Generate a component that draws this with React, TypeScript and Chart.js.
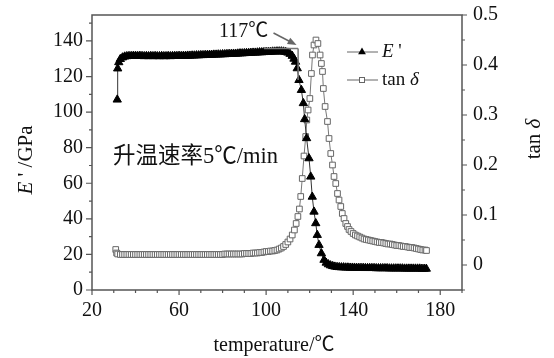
import React, { useEffect, useRef } from "react";
import { Chart, registerables } from "chart.js";

Chart.register(...registerables);

// ---- data ----
const eTemp = [
  31.6, 31.8, 32.3, 33, 34, 35, 36, 37, 38, 39, 40, 41, 42, 43, 44, 45, 46, 47, 48, 49,
  50, 51, 52, 53, 54, 55, 56, 57, 58, 59, 60, 61, 62, 63, 64, 65, 66, 67, 68, 69,
  70, 71, 72, 73, 74, 75, 76, 77, 78, 79, 80, 81, 82, 83, 84, 85, 86, 87, 88, 89,
  90, 91, 92, 93, 94, 95, 96, 97, 98, 99, 100, 101, 102, 103, 104, 105, 106, 107, 108, 109,
  110, 111, 112, 112.8, 113.5, 114.3, 115.1, 116.2, 117.1, 117.7, 118.6, 119.7, 120.5, 121.2, 122, 122.8,
  123.5, 124.3, 125.4, 126.6, 127.6, 128.6, 129.6, 130.6, 131.6, 132.6, 133.6, 134.6, 135.6, 136.6, 137.6, 138.6,
  139.6, 140.6, 141.6, 142.6, 143.6, 144.6, 145.6, 146.6, 147.6, 148.6, 149.6, 150.6, 151.6, 152.6, 153.6, 154.6,
  155.6, 156.6, 157.6, 158.6, 159.6, 160.6, 161.6, 162.6, 163.6, 164.6, 165.6, 166.6, 167.6, 168.6, 169.6, 170.6,
  171.6, 172.6, 173.6,
];
const eMod = [
  107, 124.5, 128, 129.8, 130.7, 131.2, 131.4, 131.5, 131.5, 131.6, 131.6, 131.5, 131.6, 131.5, 131.4, 131.5, 131.4, 131.5, 131.4, 131.5,
  131.4, 131.4, 131.5, 131.4, 131.4, 131.5, 131.4, 131.5, 131.5, 131.5, 131.6, 131.5, 131.6, 131.6, 131.7, 131.7, 131.8, 131.8, 131.9, 131.9,
  132.0, 132.0, 132.1, 132.1, 132.2, 132.2, 132.3, 132.3, 132.4, 132.4, 132.5, 132.5, 132.6, 132.7, 132.7, 132.8, 132.8, 132.9, 133.0, 133.0,
  133.1, 133.2, 133.2, 133.3, 133.4, 133.4, 133.5, 133.6, 133.6, 133.7, 133.8, 133.8, 133.9, 134.0, 134.0, 134.1, 134.1, 134.1, 134.0, 133.8,
  133.4, 132.7, 131.6, 130.0, 128.3, 124.6, 118, 112.4, 105, 96, 85.3, 74, 63.7, 52.4, 44, 37.5,
  30.9, 25.3, 20.6, 16.9, 15.3, 14.4, 13.8, 13.4, 13.1, 12.9, 12.8, 12.7, 12.7, 12.6, 12.6, 12.5,
  12.5, 12.5, 12.4, 12.4, 12.4, 12.4, 12.3, 12.3, 12.3, 12.3, 12.3, 12.2, 12.2, 12.2, 12.2, 12.2,
  12.2, 12.1, 12.1, 12.1, 12.1, 12.1, 12.1, 12.1, 12.0, 12.0, 12.0, 12.0, 12.0, 12.0, 12.0, 12.0,
  11.9, 11.9, 11.9,
];

const tTemp = [
  30.9, 31.3, 31.8, 33, 34, 35, 36, 37, 38, 39, 40, 41, 42, 43, 44, 45, 46, 47, 48, 49,
  50, 51, 52, 53, 54, 55, 56, 57, 58, 59, 60, 61, 62, 63, 64, 65, 66, 67, 68, 69,
  70, 71, 72, 73, 74, 75, 76, 77, 78, 79, 80, 81, 82, 83, 84, 85, 86, 87, 88, 89,
  90, 91, 92, 93, 94, 95, 96, 97, 98, 99, 100, 101, 102, 103, 104, 105, 106, 107, 108, 109,
  110, 111, 112, 113, 113.8, 114.6, 115.3, 115.9, 116.6, 117.4, 118.2, 118.7, 119.3, 120.1, 120.8, 121.3,
  122.0, 122.9, 123.8, 124.8, 125.4, 125.9, 126.3, 127.1, 128.2, 128.9, 129.7, 130.5, 131.2, 132.0, 132.8, 133.5,
  134.3, 135.0, 135.8, 136.6, 137.4, 138.1, 139, 140, 141, 142, 143, 144, 145, 146, 147, 148,
  149, 150, 151, 152, 153, 154, 155, 156, 157, 158, 159, 160, 161, 162, 163, 164,
  165, 166, 167, 168, 169, 170, 171, 172, 173, 173.7,
];
const tanD = [
  0.031, 0.024, 0.022, 0.021, 0.021, 0.021, 0.021, 0.021, 0.021, 0.021, 0.021, 0.021, 0.021, 0.021, 0.021, 0.021, 0.021, 0.021, 0.021, 0.021,
  0.021, 0.021, 0.021, 0.021, 0.021, 0.021, 0.021, 0.021, 0.021, 0.021, 0.021, 0.021, 0.021, 0.021, 0.021, 0.021, 0.021, 0.021, 0.021, 0.021,
  0.021, 0.021, 0.021, 0.021, 0.021, 0.021, 0.021, 0.021, 0.021, 0.021, 0.021, 0.022, 0.022, 0.022, 0.022, 0.022, 0.022, 0.022, 0.022, 0.022,
  0.023, 0.023, 0.023, 0.023, 0.024, 0.024, 0.024, 0.025, 0.025, 0.026, 0.027, 0.027, 0.028, 0.028, 0.029, 0.030, 0.032, 0.034, 0.037, 0.041,
  0.046, 0.052, 0.060, 0.070, 0.083, 0.097, 0.112, 0.137, 0.173, 0.218, 0.257, 0.290, 0.310, 0.333, 0.383, 0.420,
  0.440, 0.450, 0.443, 0.420, 0.403, 0.387, 0.353, 0.317, 0.287, 0.253, 0.223, 0.200, 0.177, 0.163, 0.143, 0.130,
  0.117, 0.103, 0.093, 0.083, 0.077, 0.071, 0.067, 0.063, 0.060, 0.058, 0.056, 0.054, 0.052, 0.051, 0.050, 0.049,
  0.048, 0.047, 0.046, 0.045, 0.045, 0.044, 0.043, 0.042, 0.042, 0.041, 0.040, 0.039, 0.039, 0.038, 0.037, 0.037,
  0.036, 0.035, 0.035, 0.034, 0.033, 0.032, 0.031, 0.030, 0.030, 0.029,
];

const xTickLabels = [20, 60, 100, 140, 180];
const xMinorTicks = [30, 40, 50, 70, 80, 90, 110, 120, 130, 150, 160, 170, 190];
const yLeftTickLabels = [0, 20, 40, 60, 80, 100, 120, 140];
const yLeftMinorTicks = [10, 30, 50, 70, 90, 110, 130, 150];
const yRightTickLabels = [0, 0.1, 0.2, 0.3, 0.4, 0.5];
const yRightMinorTicks = [-0.05, 0.05, 0.15, 0.25, 0.35, 0.45];

// annotation (onset construction) in data units
const onsetLabel = "117℃";
const onsetH = { x0: 99, x1: 114.7, y: 135.8 };
const onsetV = { x: 114.7, y0: 135.8, y1: 118 };
const arrowFrom = { x: 103.4, y: 144.5 };
const arrowTo = { x: 114, y: 137.7 };
const rateText = "升温速率5℃/min";

const SERIF = "'Liberation Serif', 'Noto Sans CJK SC', serif";
const AXIS = "#555";
const TEXT = "#111";

type Run = { t: string; italic?: boolean };

function drawRuns(ctx: CanvasRenderingContext2D, runs: Run[], size: number, x: number, y: number, align: "left" | "center" | "right") {
  const fonts = runs.map((r) => `${r.italic ? "italic " : ""}${size}px ${SERIF}`);
  let total = 0;
  const widths = runs.map((r, i) => {
    ctx.font = fonts[i];
    const w = ctx.measureText(r.t).width;
    total += w;
    return w;
  });
  let cx = align === "left" ? x : align === "center" ? x - total / 2 : x - total;
  ctx.textAlign = "left";
  ctx.textBaseline = "middle";
  runs.forEach((r, i) => {
    ctx.font = fonts[i];
    ctx.fillText(r.t, cx, y);
    cx += widths[i];
  });
}

function drawTri(ctx: CanvasRenderingContext2D, x: number, y: number, r: number) {
  ctx.beginPath();
  ctx.moveTo(x, y - r);
  ctx.lineTo(x + r * 0.866, y + r * 0.5);
  ctx.lineTo(x - r * 0.866, y + r * 0.5);
  ctx.closePath();
  ctx.fillStyle = "#000";
  ctx.fill();
}

const decor = {
  id: "decor",
  afterDraw(chart: any) {
    const { ctx, chartArea: a, scales } = chart;
    const sx = scales.x, sy = scales.y, sr = scales.y1;
    ctx.save();

    // annotation lines
    ctx.strokeStyle = "#777";
    ctx.lineWidth = 1.5;
    ctx.beginPath();
    ctx.moveTo(sx.getPixelForValue(onsetH.x0), sy.getPixelForValue(onsetH.y));
    ctx.lineTo(sx.getPixelForValue(onsetH.x1), sy.getPixelForValue(onsetH.y));
    ctx.moveTo(sx.getPixelForValue(onsetV.x), sy.getPixelForValue(onsetV.y0));
    ctx.lineTo(sx.getPixelForValue(onsetV.x), sy.getPixelForValue(onsetV.y1));
    ctx.stroke();
    // arrow
    const ax0 = sx.getPixelForValue(arrowFrom.x), ay0 = sy.getPixelForValue(arrowFrom.y);
    const ax1 = sx.getPixelForValue(arrowTo.x), ay1 = sy.getPixelForValue(arrowTo.y);
    const ang = Math.atan2(ay1 - ay0, ax1 - ax0);
    ctx.strokeStyle = "#666";
    ctx.lineWidth = 1.5;
    ctx.beginPath();
    ctx.moveTo(ax0, ay0);
    ctx.lineTo(ax1 - 6 * Math.cos(ang), ay1 - 6 * Math.sin(ang));
    ctx.stroke();
    ctx.fillStyle = "#666";
    ctx.beginPath();
    ctx.moveTo(ax1, ay1);
    ctx.lineTo(ax1 - 9 * Math.cos(ang) + 3.5 * Math.sin(ang), ay1 - 9 * Math.sin(ang) - 3.5 * Math.cos(ang));
    ctx.lineTo(ax1 - 9 * Math.cos(ang) - 3.5 * Math.sin(ang), ay1 - 9 * Math.sin(ang) + 3.5 * Math.cos(ang));
    ctx.closePath();
    ctx.fill();

    ctx.fillStyle = TEXT;
    drawRuns(ctx, [{ t: onsetLabel }], 20, sx.getPixelForValue(101), sy.getPixelForValue(145), "right");
    drawRuns(ctx, [{ t: rateText }], 22.5, sx.getPixelForValue(29.7), sy.getPixelForValue(74.8), "left");

    // frame
    ctx.strokeStyle = AXIS;
    ctx.lineWidth = 1.5;
    ctx.strokeRect(a.left, a.top, a.right - a.left, a.bottom - a.top);

    // ticks
    ctx.lineWidth = 1.2;
    ctx.beginPath();
    xTickLabels.forEach((v) => { const p = sx.getPixelForValue(v); ctx.moveTo(p, a.bottom); ctx.lineTo(p, a.bottom + 5); });
    xMinorTicks.forEach((v) => { const p = sx.getPixelForValue(v); ctx.moveTo(p, a.bottom); ctx.lineTo(p, a.bottom + 3); });
    yLeftTickLabels.forEach((v) => { const p = sy.getPixelForValue(v); ctx.moveTo(a.left, p); ctx.lineTo(a.left - 6, p); });
    yLeftMinorTicks.forEach((v) => { const p = sy.getPixelForValue(v); ctx.moveTo(a.left, p); ctx.lineTo(a.left - 3, p); });
    yRightTickLabels.forEach((v) => { const p = sr.getPixelForValue(v); ctx.moveTo(a.right, p); ctx.lineTo(a.right + 5, p); });
    yRightMinorTicks.forEach((v) => { const p = sr.getPixelForValue(v); ctx.moveTo(a.right, p); ctx.lineTo(a.right + 3, p); });
    ctx.stroke();

    // tick labels
    ctx.fillStyle = TEXT;
    xTickLabels.forEach((v) => drawRuns(ctx, [{ t: String(v) }], 20, sx.getPixelForValue(v), a.bottom + 21, "center"));
    yLeftTickLabels.forEach((v) => drawRuns(ctx, [{ t: String(v) }], 20, a.left - 9, sy.getPixelForValue(v), "right"));
    yRightTickLabels.forEach((v) => drawRuns(ctx, [{ t: String(v) }], 20, a.right + 11, sr.getPixelForValue(v), "left"));

    // axis titles
    drawRuns(ctx, [{ t: "temperature/℃" }], 20, 274, 346, "center");
    ctx.save();
    ctx.translate(26, 160);
    ctx.rotate(-Math.PI / 2);
    drawRuns(ctx, [{ t: "E", italic: true }, { t: " ' /GPa" }], 21, 0, 0, "center");
    ctx.restore();
    ctx.save();
    ctx.translate(534, 139);
    ctx.rotate(-Math.PI / 2);
    drawRuns(ctx, [{ t: "tan " }, { t: "δ", italic: true }], 21, 0, 0, "center");
    ctx.restore();

    // legend
    const rows = [
      { y: 52, kind: "tri", label: [{ t: "E", italic: true }, { t: " '" }] as Run[] },
      { y: 80, kind: "sq", label: [{ t: "tan " }, { t: "δ", italic: true }] as Run[] },
    ];
    rows.forEach((r) => {
      ctx.strokeStyle = "#666";
      ctx.lineWidth = 1;
      ctx.beginPath();
      ctx.moveTo(347, r.y);
      ctx.lineTo(378, r.y);
      ctx.stroke();
      if (r.kind === "tri") {
        drawTri(ctx, 362, r.y, 4.5);
      } else {
        ctx.fillStyle = "#fff";
        ctx.fillRect(359.5, r.y - 2.5, 5, 5);
        ctx.strokeStyle = "#666";
        ctx.strokeRect(359.5, r.y - 2.5, 5, 5);
      }
      ctx.fillStyle = TEXT;
      drawRuns(ctx, r.label, 19, 382, r.y, "left");
    });

    ctx.restore();
  },
};

export default function App() {
  const ref = useRef<HTMLCanvasElement>(null);
  useEffect(() => {
    if (!ref.current) return;
    const chart = new Chart(ref.current, {
      type: "line",
      data: {
        datasets: [
          {
            label: "E'",
            data: eTemp.map((t, i) => ({ x: t, y: eMod[i] })),
            yAxisID: "y",
            borderColor: "#333",
            borderWidth: 1,
            pointStyle: "triangle",
            pointRadius: 4.8,
            pointBackgroundColor: "#000",
            pointBorderColor: "#000",
            pointBorderWidth: 1,
            tension: 0,
          },
          {
            label: "tan δ",
            data: tTemp.map((t, i) => ({ x: t, y: tanD[i] })),
            yAxisID: "y1",
            borderColor: "#777",
            borderWidth: 1,
            pointStyle: "rect",
            pointRadius: 4,
            pointBackgroundColor: "#fff",
            pointBorderColor: "#666",
            pointBorderWidth: 1,
            tension: 0,
          },
        ],
      },
      options: {
        responsive: false,
        animation: false,
        devicePixelRatio: 1,
        layout: { padding: { left: 92, right: 92, top: 15, bottom: 68 } },
        scales: {
          x: { type: "linear", min: 20, max: 190, display: false },
          y: { type: "linear", min: 0, max: 154.6, display: false },
          y1: { type: "linear", min: -0.05, max: 0.5, display: false },
        },
        plugins: { legend: { display: false }, tooltip: { enabled: false } },
      },
      plugins: [decor],
    } as any);
    return () => chart.destroy();
  }, []);
  return (
    <div style={{ position: "fixed", left: 0, top: 0, width: 554, height: 358, background: "#fff" }}>
      <canvas ref={ref} width={554} height={358} />
    </div>
  );
}
